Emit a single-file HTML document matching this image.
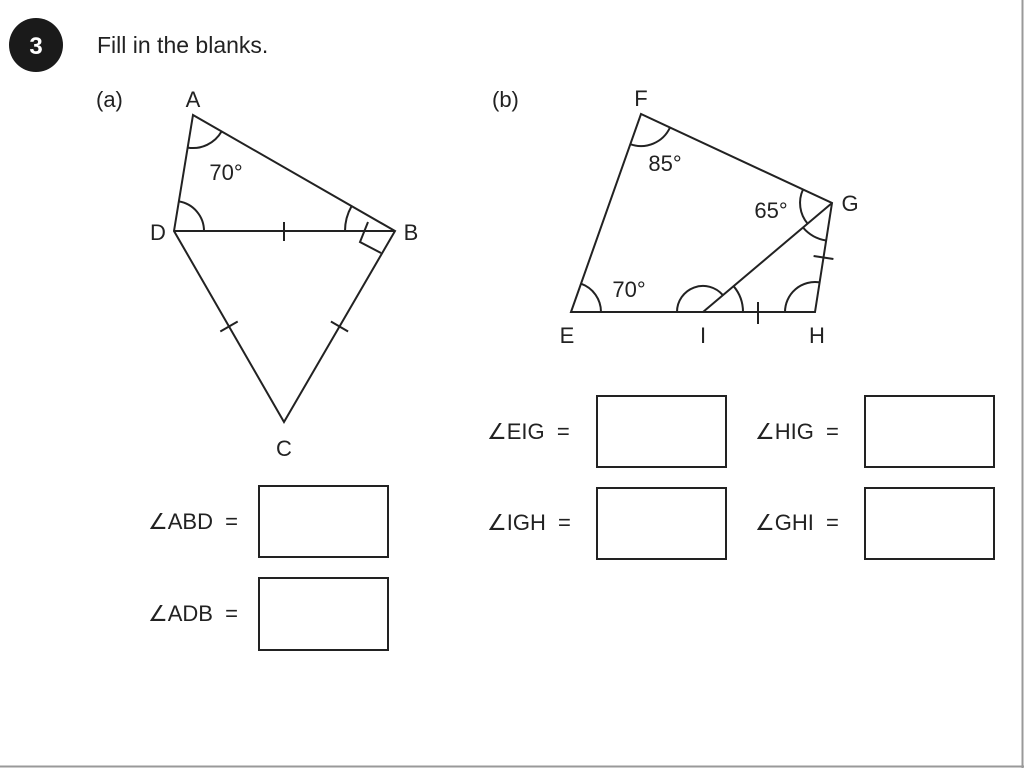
<!DOCTYPE html>
<html><head><meta charset="utf-8"><style>
html,body{margin:0;padding:0;background:#fff;}
svg{display:block}
text{font-family:"Liberation Sans","DejaVu Sans",sans-serif;fill:#222;}
</style></head><body>
<svg width="1024" height="768" viewBox="0 0 1024 768">
<rect width="1024" height="768" fill="#fff"/>
<line x1="0" y1="766.5" x2="1024" y2="766.5" stroke="#999" stroke-width="2"/>
<line x1="1022.5" y1="0" x2="1022.5" y2="768" stroke="#999" stroke-width="2"/>
<circle cx="36" cy="45" r="27" fill="#1a1a1a"/>
<text x="36" y="54" font-size="24" font-weight="bold" text-anchor="middle" style="fill:#fff">3</text>
<text x="97" y="53" font-size="23">Fill in the blanks.</text>
<text x="96" y="107" font-size="22">(a)</text>
<text x="492" y="107" font-size="22">(b)</text>

<g stroke="#222" stroke-width="2" fill="none">
<polygon points="193,115 395,231 284,422 174,231"/>
<line x1="174" y1="231" x2="395" y2="231"/>
<path d="M187.7,147.6 A33,33 0 0 0 221.6,131.4"/>
<path d="M178.9,201.4 A30,30 0 0 1 204,231"/>
<path d="M345,231 A50,50 0 0 1 351.6,206.1"/>
<polyline points="368,222 360,242 381,253"/>
<line x1="284" y1="222" x2="284" y2="241"/>
<line x1="220.3" y1="331.5" x2="237.7" y2="321.5"/>
<line x1="330.9" y1="321.5" x2="348.1" y2="331.5"/>

<polygon points="571,312 641,114 832,203 815,312"/>
<line x1="703" y1="312" x2="832" y2="203"/>
<path d="M581,283.7 A30,30 0 0 1 601,312"/>
<path d="M630.3,144.2 A32,32 0 0 0 670,127.5"/>
<path d="M803,189.5 A32,32 0 0 0 807.6,223.6"/>
<path d="M803,227.5 A38,38 0 0 0 826.1,240.5"/>
<path d="M677,312 A26,26 0 0 1 722.9,295.2"/>
<path d="M733.6,286.2 A40,40 0 0 1 743,312"/>
<path d="M785,312 A30,30 0 0 1 819.6,282.4"/>
<line x1="758" y1="302" x2="758" y2="324"/>
<line x1="813.6" y1="256" x2="833.4" y2="259"/>

<rect x="259" y="486" width="129" height="71"/>
<rect x="259" y="578" width="129" height="72"/>
<rect x="597" y="396" width="129" height="71"/>
<rect x="865" y="396" width="129" height="71"/>
<rect x="597" y="488" width="129" height="71"/>
<rect x="865" y="488" width="129" height="71"/>
</g>

<g font-size="22" text-anchor="middle">
<text x="193" y="107">A</text>
<text x="158" y="240">D</text>
<text x="411" y="240">B</text>
<text x="284" y="456">C</text>
<text x="226" y="180">70°</text>
<text x="641" y="106">F</text>
<text x="850" y="211">G</text>
<text x="567" y="343">E</text>
<text x="703" y="343">I</text>
<text x="817" y="343">H</text>
<text x="665" y="171">85°</text>
<text x="771" y="218">65°</text>
<text x="629" y="297">70°</text>
</g>
<g font-size="22">
<text x="148" y="529">∠ABD&#160;&#160;=</text>
<text x="148" y="621">∠ADB&#160;&#160;=</text>
<text x="487" y="439">∠EIG&#160;&#160;=</text>
<text x="755" y="439">∠HIG&#160;&#160;=</text>
<text x="487" y="530">∠IGH&#160;&#160;=</text>
<text x="755" y="530">∠GHI&#160;&#160;=</text>
</g>
</svg>
</body></html>
